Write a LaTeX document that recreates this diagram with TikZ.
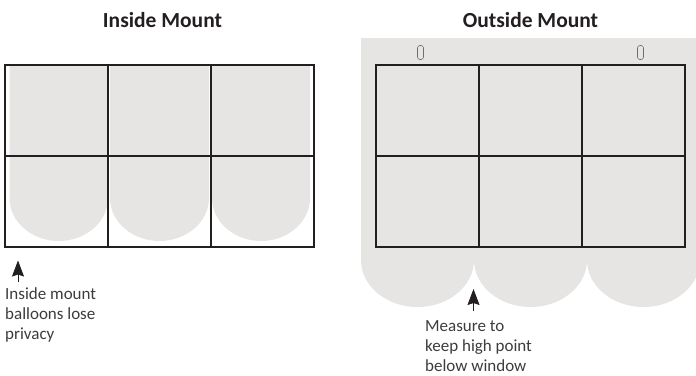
\documentclass[tikz,border=0pt]{standalone}
\usepackage{fontspec}
\setmainfont{Carlito}
\usetikzlibrary{%
	calc,%
	arrows.meta,%
	positioning,%
}
\definecolor{cshade}{RGB}{230, 229, 227}
\definecolor{cline}{RGB}{35, 31, 32}
\definecolor{ctext}{RGB}{60, 60, 60}
\definecolor{ctab}{RGB}{110, 110, 110}
\tikzset{
	>={Stealth[length=16pt,width=12pt,inset=2pt]},%
	framenode/.style={%
			draw=cline,%
			rectangle,%
			line width=1.8pt,%
			inner sep=0,%
			minimum width=309pt,%
			minimum height=182pt},%
	gridline/.style={%
			draw=cline,%
			line width=1.8pt},%
	lobe/.style={%
			fill=cshade},%
	titlenode/.style={%
			font={\fontsize{21.5}{24}\selectfont\bfseries},%
			text=cline,%
			inner sep=0},%
	notenode/.style={%
			font={\fontsize{17}{20}\selectfont},%
			text=ctext,%
			align=left,%
			inner sep=0},%
	tabnode/.style={%
			draw=ctab,%
			rectangle,%
			rounded corners=2.5pt,%
			line width=.6pt,%
			inner sep=0,%
			minimum width=6pt,%
			minimum height=14pt},%
	pointer/.style={%
			->,%
			draw=cline,%
			fill=cline,%
			line width=.8pt},%
}

\begin{document}
\begin{tikzpicture}[x=1pt,y=1pt]%
	\useasboundingbox (0,0) rectangle (696,-375);

	% shaded blinds
	\fill[lobe] (9.5,-65) -- (9.5,-198) arc[start angle=180,end angle=360,x radius=49.25pt,y radius=43pt] -- (108,-65) -- cycle;
	\fill[lobe] (110,-65) -- (110,-198) arc[start angle=180,end angle=360,x radius=49.5pt,y radius=43pt] -- (209,-65) -- cycle;
	\fill[lobe] (212,-65) -- (212,-198) arc[start angle=180,end angle=360,x radius=49pt,y radius=43pt] -- (310,-65) -- cycle;
	\begin{scope}
		\clip (0,0) rectangle (696,-375);
		\fill[lobe] (361,-38) -- (361,-260) arc[start angle=180,end angle=360,x radius=56.5pt,y radius=47pt]
			arc[start angle=180,end angle=360,x radius=56.5pt,y radius=47pt]
			arc[start angle=180,end angle=360,x radius=56.5pt,y radius=47pt] -- (700,-38) -- cycle;
	\end{scope}

	% frames
	\node[framenode] (inframe) at (159.5,-156) {};
	\node[framenode] (outframe) at (530.5,-156) {};
	\foreach \frm in {inframe,outframe} {
		\draw[gridline] (\frm.west) to (\frm.east);
		\foreach \pos in {0.3333,0.6667} {
			\draw[gridline] ($(\frm.north west)!\pos!(\frm.north east)$) to ($(\frm.south west)!\pos!(\frm.south east)$);
		}
	}

	\node[titlenode, anchor=base] (intitle) at (162.5,-27.5) {Inside Mount};
	\node[titlenode, anchor=base] (outtitle) at (530.5,-27.5) {Outside Mount};

	\node[tabnode] (tabl) at (420.5,-52.5) {};
	\node[tabnode] (tabr) at (640.5,-52.5) {};

	% notes
	\node[notenode, anchor=north west] (innote) at (5,-287.5) {Inside mount\\balloons lose\\privacy};
	\node[notenode, anchor=north west] (outnote) at (425,-320) {Measure to\\keep high point\\below window};

	\coordinate (intail) at (18,-282);
	\coordinate (intip) at (18,-260.5);
	\coordinate (outtail) at (473.5,-311);
	\coordinate (outtip) at (473.5,-289);
	\draw[pointer] (intail) to (intip);
	\draw[pointer] (outtail) to (outtip);
\end{tikzpicture}
\end{document}
